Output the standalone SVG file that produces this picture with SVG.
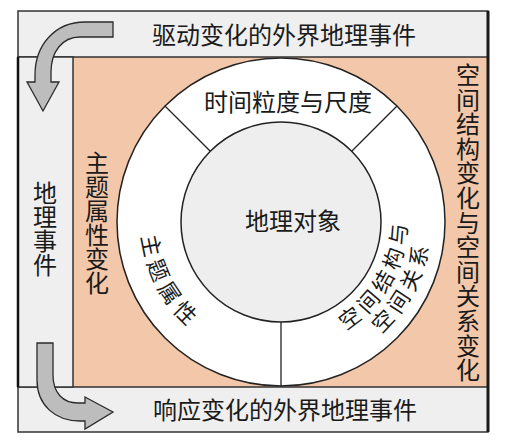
<svg xmlns="http://www.w3.org/2000/svg" width="506" height="444" viewBox="0 0 506 444">
<style>
.t{font-family:"Noto Sans CJK SC","Liberation Serif",serif;font-size:24px;fill:#1a1a1a}
.band{fill:#efefef;stroke:#333;stroke-width:1.5}
.div{stroke:#222;stroke-width:1.3;fill:none}
.arr{fill:#bdbdbd;stroke:#2a2a2a;stroke-width:1.3;stroke-linejoin:miter}
</style>
<defs>
<path id="arcL" d="M149.4,174.1 A140,140 0 0 0 247.1,357.8"/>
<path id="arcR1" d="M302.9,346.1 A126,126 0 0 0 397.8,174.8"/>
<path id="arcR2" d="M309.6,369.2 A150,150 0 0 0 419.1,163.4"/>
</defs>
<rect width="506" height="444" fill="#fff"/>
<g id="salmon-area">
<rect x="73" y="57" width="415" height="330" fill="#f3c7a9"/>
</g>
<g id="ring">
<circle cx="281" cy="222" r="164" fill="#fff" stroke="#222" stroke-width="1.5"/>
<circle cx="281" cy="222" r="100" fill="#eeeeee" stroke="#222" stroke-width="1.5"/>
<line class="div" x1="165" y1="106" x2="210.3" y2="151.3"/>
<line class="div" x1="397" y1="106" x2="351.7" y2="151.3"/>
<line class="div" x1="281" y1="322" x2="281" y2="386"/>
</g>
<g id="top-band">
<rect class="band" x="18" y="11" width="470" height="46"/>
<text class="t" x="284" y="44" text-anchor="middle">驱动变化的外界地理事件</text>
</g>
<g id="bottom-band">
<rect class="band" x="18" y="387" width="470" height="45"/>
<text class="t" x="285" y="419" text-anchor="middle">响应变化的外界地理事件</text>
</g>
<g id="left-band">
<rect class="band" x="18" y="57" width="55" height="330"/>
<line x1="18" y1="57" x2="18" y2="387" stroke="#111" stroke-width="2.5"/>
<text class="t" x="45 45 45 45" y="202 226 250 274" text-anchor="middle">地理事件</text>
</g>
<line x1="488" y1="11" x2="488" y2="432" stroke="#1a1a1a" stroke-width="3"/>
<g id="theme-change">
<text class="t" x="97 97 97 97 97 97" y="172 196 220 244 268 292" text-anchor="middle">主题属性变化</text>
</g>
<g id="space-change">
<text class="t" x="468 468 468 468 468 468 468 468 468 468 468 468 468" y="84 108.6 133.2 157.8 182.4 207 231.6 256.2 280.8 305.4 330 354.6 379.2" text-anchor="middle">空间结构变化与空间关系变化</text>
</g>
<g id="time-scale">
<text class="t" x="288" y="111" text-anchor="middle">时间粒度与尺度</text>
</g>
<g id="geo-object">
<text class="t" x="293" y="230" text-anchor="middle">地理对象</text>
</g>
<g id="theme-attr">
<text class="t" style="font-size:22px;letter-spacing:5px"><textPath href="#arcL" startOffset="50%" text-anchor="middle">主题属性</textPath></text>
</g>
<g id="space-struct">
<text class="t" style="font-size:21.5px;letter-spacing:5px"><textPath href="#arcR1" startOffset="50%" text-anchor="middle">空间结构与</textPath></text>
<text class="t" style="font-size:21.5px;letter-spacing:5px"><textPath href="#arcR2" startOffset="50%" text-anchor="middle">空间关系</textPath></text>
</g>
<g id="connectors">
<path class="arr" d="M113,22 L85,22 C55,22 35,45 35,75 L35,82 L27,82 L43,111 L59,82 L51,82 L51,72 C51,52 62,37 80,37 L113,37 Z"/>
<path class="arr" d="M37,343 L53,343 L53,375 C53,393 63,403 78,403 L85,403 L85,397 L113,412 L85,429 L85,421 L80,421 C55,421 37,405 37,380 Z"/>
</g>
</svg>
